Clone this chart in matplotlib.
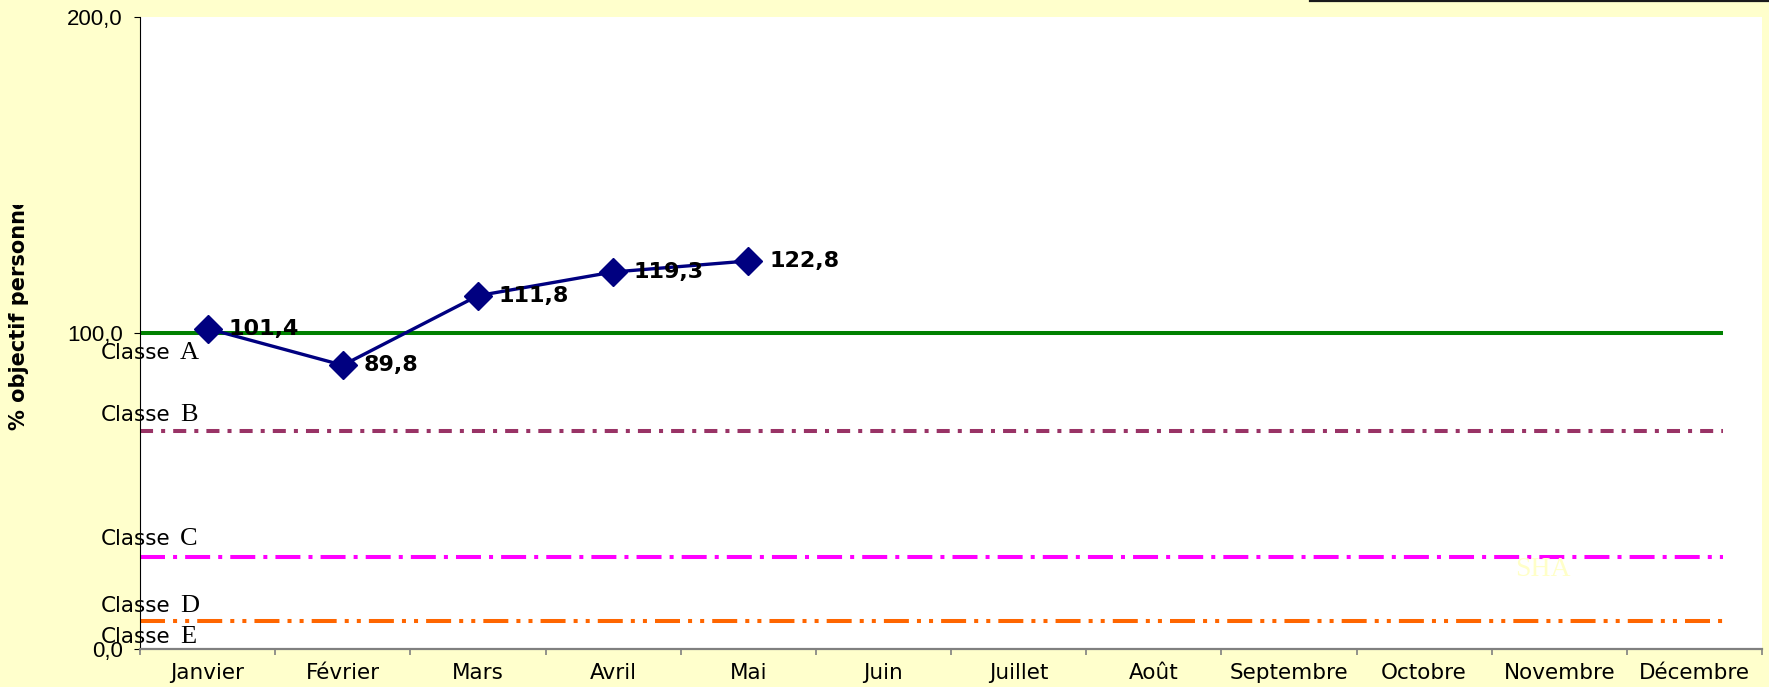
import numpy as np
import matplotlib.pyplot as plt
from matplotlib.lines import Line2D
from matplotlib.transforms import Bbox, blended_transform_factory

plt.rcParams['lines.scale_dashes'] = False

mois = ["Janvier", "Février", "Mars", "Avril", "Mai", "Juin", "Juillet",
        "Août", "Septembre", "Octobre", "Novembre", "Décembre"]
realise = [101.4, 89.8, 111.8, 119.3, 122.8]
objectif = 100.0
classes = ["A", "B", "C", "D", "E"]
seuils = [69.0, 29.0, 9.0]          # limites B, C, D
couleurs_seuils = ["#993366", "#FF00FF", "#FF6600"]
styles_seuils = [(0, (9.4, 5.8, 2.9, 5.8)),
                 (0, (18, 5.8, 2.9, 5.8)),
                 (0, (18, 5.8, 2.9, 5.8, 2.9, 5.8))]
y_ticks = [0, 100, 200]
y_labels = ["0,0", "100,0", "200,0"]

# extent of the reference lines (category units)
ligne_x = [-0.5, 11.21]
# baselines of the "Classe" labels (data units)
label_y = [91.8, 72.2, 32.9, 11.7, 1.9]

W, H = 1769, 687
fig = plt.figure(figsize=(W / 100, H / 100), dpi=100, facecolor="#FFFFCC")
ax = fig.add_axes([140 / W, 38 / H, 1622 / W, 632 / H])
ax.set_facecolor("white")

x = np.arange(len(mois))

ax.plot(ligne_x, [objectif, objectif], color="#008000", lw=2.9,
        solid_capstyle="butt", clip_on=False, zorder=2)
for val, col, ls in zip(seuils, couleurs_seuils, styles_seuils):
    ax.plot(ligne_x, [val, val], color=col, lw=2.9, linestyle=ls,
            dash_capstyle="butt", clip_on=False, zorder=2)

ax.plot(x[:len(realise)], realise, color="#000080", lw=2.4, marker="D",
        markersize=14, zorder=3)
for xi, v in zip(x, realise):
    ax.annotate(f"{v:.1f}".replace(".", ","), (xi, v), xytext=(15, 0),
                textcoords="offset points", ha="left", va="center",
                fontsize=16, fontweight="bold", family="DejaVu Sans", zorder=4)

ax.set_xlim(-0.5, 11.5)
ax.set_ylim(0, 200)
ax.set_xticks(np.arange(-0.5, 12, 1))
ax.set_xticklabels([])
ax.set_xticks(x, minor=True)
ax.set_xticklabels(mois, minor=True, fontsize=15.5, family="DejaVu Sans")
ax.tick_params(axis="x", which="major", direction="out", length=4,
               color="#808080", width=1.2)
ax.tick_params(axis="x", which="minor", length=0, pad=10)
ax.set_yticks(y_ticks)
ax.set_yticklabels(y_labels, fontsize=16, family="Liberation Sans")
ax.tick_params(axis="y", direction="out", length=4.3, width=0.8, pad=8)

for s in ["top", "right"]:
    ax.spines[s].set_visible(False)
ax.spines["bottom"].set_color("#808080")
ax.spines["bottom"].set_linewidth(1.6)
ax.spines["left"].set_linewidth(0.8)

# "Classe X" labels on the left
tr = blended_transform_factory(fig.transFigure, ax.transData)
for lettre, ly in zip(classes, label_y):
    fig.text(101 / W, ly, "Classe", transform=tr, fontsize=15.5,
             family="DejaVu Sans", va="baseline", ha="left", zorder=5)
    fig.text(180 / W, ly, lettre, transform=tr, fontsize=19,
             family="Liberation Serif", va="baseline", ha="left", zorder=5)

# truncated y-axis title
ylab = fig.text(19 / W, (H - 430) / H, "% objectif personnel", rotation=90,
                fontsize=15, fontweight="bold", family="DejaVu Sans",
                ha="center", va="bottom")
ylab.set_clip_box(Bbox([[0, 0], [60, H - 205]]))
ylab.set_clip_on(True)

# faint watermark
fig.text(1543 / W, (H - 570) / H, "SHA", fontsize=20, color="#FFFFC8",
         family="Liberation Serif", ha="center", va="center")

# dark rule at the top right
fig.add_artist(Line2D([1310 / W, 1.0], [1 - 1.2 / H, 1 - 1.2 / H],
                      transform=fig.transFigure, color="#1a1a1a", lw=1.6))

fig.savefig("out.png", dpi=100, facecolor=fig.get_facecolor())
